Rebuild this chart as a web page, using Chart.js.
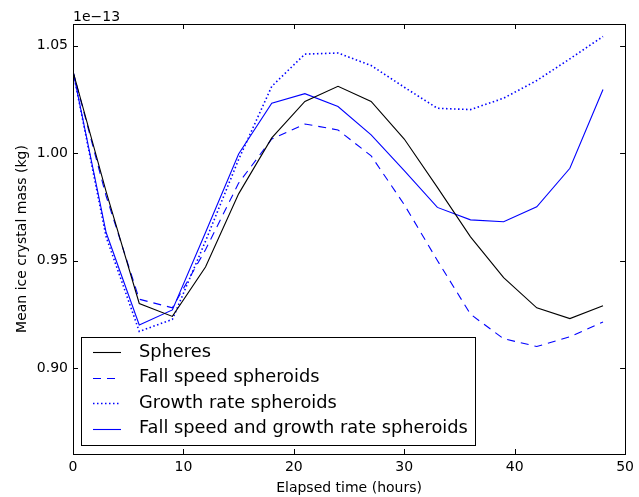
<!DOCTYPE html>
<html>
<head>
<meta charset="utf-8">
<script src="https://cdn.jsdelivr.net/npm/chart.js@4"></script>
<style>
  body { margin: 0; background: #fff; }
</style>
</head>
<body>
<canvas id="chart" width="639" height="497"></canvas>
<script>
// Mean ice crystal mass, units of 1e-13 kg
var hours = [0, 3, 6, 9, 12, 15, 18, 21, 24, 27, 30, 33, 36, 39, 42, 45, 48];
var spheres = [1.038, 0.982, 0.930, 0.924, 0.947, 0.981, 1.007, 1.024, 1.031, 1.024, 1.0065, 0.984, 0.961, 0.942, 0.928, 0.923, 0.929];
var fallSpeed = [1.038, 0.980, 0.932, 0.928, 0.955, 0.986, 1.0065, 1.0135, 1.0107, 0.9987, 0.976, 0.950, 0.925, 0.9136, 0.910, 0.9145, 0.9214];
var growthRate = [1.038, 0.961, 0.917, 0.9226, 0.959, 0.997, 1.031, 1.046, 1.0465, 1.0407, 1.0306, 1.0208, 1.0202, 1.0255, 1.0337, 1.0438, 1.0542];
var fallGrowth = [1.038, 0.963, 0.920, 0.927, 0.963, 0.9995, 1.0232, 1.0276, 1.0216, 1.0084, 0.9918, 0.9747, 0.9689, 0.968, 0.975, 0.9929, 1.0295];
var xTicks = [0, 10, 20, 30, 40, 50];
var yTicks = [0.90, 0.95, 1.00, 1.05];

function pts(vals) {
  return hours.map(function (h, i) { return { x: h, y: vals[i] }; });
}

var font = "'DejaVu Sans', sans-serif";

// frame, inward ticks, offset text and legend in matplotlib style
var mplStyle = {
  id: 'mplStyle',
  afterDraw: function (chart) {
    var ctx = chart.ctx;
    var a = chart.chartArea;
    var xs = chart.scales.x, ys = chart.scales.y;
    ctx.save();
    ctx.strokeStyle = '#000';
    ctx.lineWidth = 1;
    ctx.setLineDash([]);
    ctx.beginPath();
    xTicks.forEach(function (t) {
      var px = Math.round(xs.getPixelForValue(t)) + 0.5;
      ctx.moveTo(px, a.bottom); ctx.lineTo(px, a.bottom - 5);
      ctx.moveTo(px, a.top); ctx.lineTo(px, a.top + 5);
    });
    yTicks.forEach(function (t) {
      var py = Math.round(ys.getPixelForValue(t)) + 0.5;
      ctx.moveTo(a.left, py); ctx.lineTo(a.left + 5, py);
      ctx.moveTo(a.right, py); ctx.lineTo(a.right - 5, py);
    });
    ctx.stroke();
    ctx.strokeRect(Math.round(a.left) + 0.5, Math.round(a.top) + 0.5,
      Math.round(a.right - a.left), Math.round(a.bottom - a.top));

    ctx.fillStyle = '#000';
    ctx.font = '14px ' + font;
    ctx.textAlign = 'left';
    ctx.textBaseline = 'alphabetic';
    ctx.fillText('1e\u221213', a.left, a.top - 3);

    // legend box, lower left
    var lx = a.left + 8, ly = a.bottom - 117, lw = 394, lh = 108;
    ctx.fillStyle = '#fff';
    ctx.fillRect(lx, ly, lw, lh);
    ctx.strokeStyle = '#000';
    ctx.strokeRect(Math.round(lx) + 0.5, Math.round(ly) + 0.5, lw, lh);
    ctx.font = '17.8px ' + font;
    ctx.textBaseline = 'middle';
    chart.data.datasets.forEach(function (ds, i) {
      var cy = ly + 15 + i * 25.5;
      ctx.strokeStyle = ds.borderColor;
      ctx.lineWidth = ds.borderWidth;
      ctx.setLineDash(ds.borderDash || []);
      ctx.beginPath();
      ctx.moveTo(lx + 12, Math.round(cy) + 0.5);
      ctx.lineTo(lx + 40, Math.round(cy) + 0.5);
      ctx.stroke();
      ctx.fillStyle = '#000';
      ctx.fillText(ds.label, lx + 58, cy);
    });
    ctx.restore();
  }
};

new Chart(document.getElementById('chart'), {
  type: 'line',
  data: {
    datasets: [
      { label: 'Spheres', data: pts(spheres), borderColor: '#000000', borderWidth: 1.1 },
      { label: 'Fall speed spheroids', data: pts(fallSpeed), borderColor: '#0000ff', borderWidth: 1.1, borderDash: [8, 6] },
      { label: 'Growth rate spheroids', data: pts(growthRate), borderColor: '#0000ff', borderWidth: 1.6, borderDash: [1.5, 2.5] },
      { label: 'Fall speed and growth rate spheroids', data: pts(fallGrowth), borderColor: '#0000ff', borderWidth: 1.1 }
    ]
  },
  options: {
    responsive: false,
    animation: false,
    layout: { padding: { top: 24, right: 11, left: 0, bottom: 0 } },
    elements: { point: { radius: 0 }, line: { tension: 0, fill: false } },
    plugins: { legend: { display: false }, tooltip: { enabled: false } },
    scales: {
      x: {
        type: 'linear',
        min: 0, max: 50,
        afterBuildTicks: function (s) { s.ticks = xTicks.map(function (v) { return { value: v }; }); },
        afterFit: function (s) { s.height = 43; },
        grid: { display: false, drawTicks: false },
        border: { display: false },
        ticks: { color: '#000', font: { family: font, size: 14 }, padding: 5, maxRotation: 0 },
        title: { display: true, text: 'Elapsed time (hours)', color: '#000', font: { family: font, size: 14 }, padding: { top: 0, bottom: 0 } }
      },
      y: {
        min: 0.86, max: 1.06,
        afterBuildTicks: function (s) { s.ticks = yTicks.map(function (v) { return { value: v }; }); },
        afterFit: function (s) { s.width = 73; },
        grid: { display: false, drawTicks: false },
        border: { display: false },
        ticks: { color: '#000', font: { family: font, size: 14 }, padding: 5, callback: function (v) { return v.toFixed(2); } },
        title: { display: true, text: 'Mean ice crystal mass (kg)', color: '#000', font: { family: font, size: 14 }, padding: { top: 14, bottom: 0 } }
      }
    }
  },
  plugins: [mplStyle]
});
</script>
</body>
</html>
